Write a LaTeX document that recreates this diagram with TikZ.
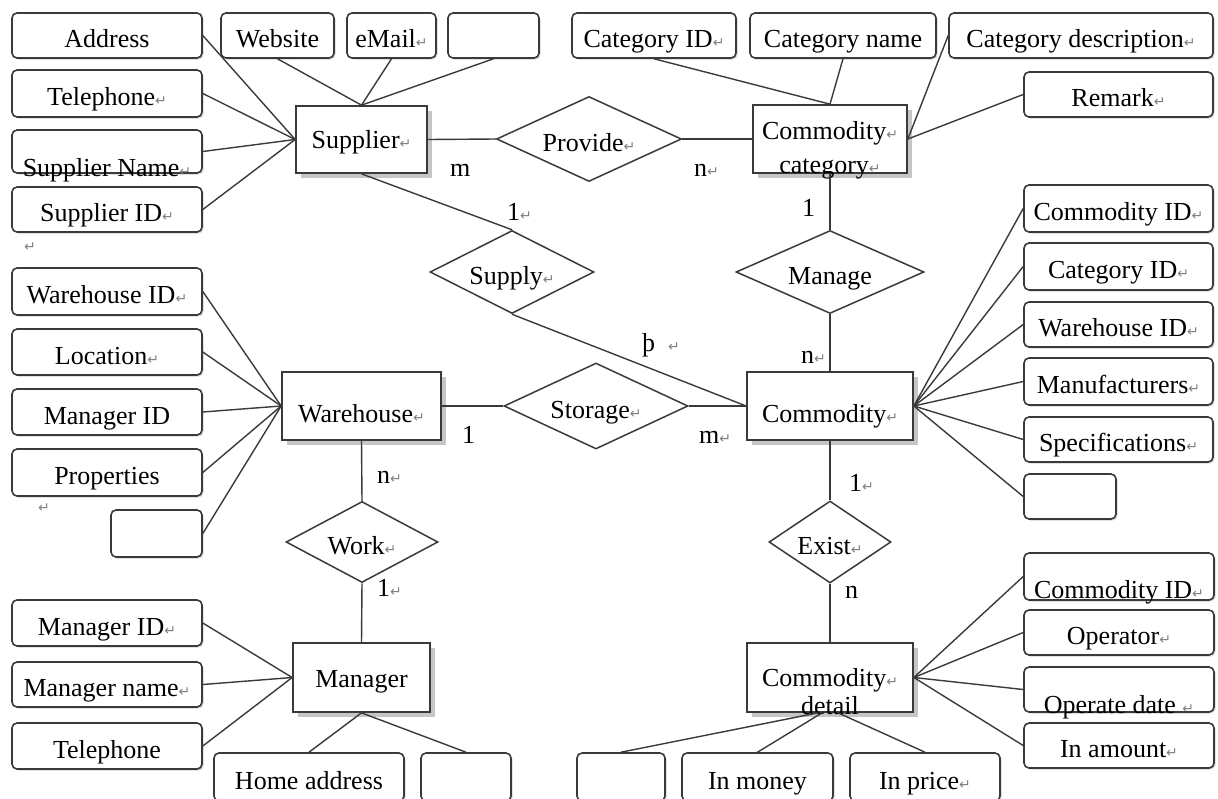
\documentclass[tikz,border=0pt]{standalone}
\usepackage{fontspec}
\setmainfont{Liberation Serif}
\newfontfamily\retfont{DejaVu Sans}
\usetikzlibrary{shapes.geometric,shadows}
\definecolor{ln}{HTML}{3A3A3A}
\newcommand\retm{{\retfont\fontsize{14}{14}\selectfont\textcolor{gray}{↵}}}
\newcommand\abox[6]{\node[attr, minimum width={#4-#2}, minimum height={#5-#3}] (#1) at ({(#2+#4)/2},{(#3+#5)/2}) {#6};}
\newcommand\ebox[7]{\node[ent, minimum width={#4-#2}, minimum height={#5-#3}, #7] (#1) at ({(#2+#4)/2},{(#3+#5)/2}) {#6};}
\begin{document}
\begin{tikzpicture}[x=1pt,y=-1pt,
  every node/.style={font=\fontsize{26}{30}\selectfont},
  attr/.style={draw=ln, line width=1.6pt, rounded corners=5pt, fill=white, inner sep=0pt,
    text height=26pt, text depth=2pt,
    drop shadow={shadow xshift=1.5pt, shadow yshift=-1.5pt, opacity=0.35}},
  ent/.style={draw=ln, line width=1.7pt, fill=white, inner sep=0pt,
    drop shadow={shadow xshift=5pt, shadow yshift=-5pt, opacity=0.45, fill=gray}},
  rel/.style={diamond, draw=ln, line width=1.5pt, fill=white, inner sep=0pt},
  rlab/.style={text height=26pt, text depth=2pt, inner sep=0pt},
  conn/.style={draw=ln, line width=1.4pt},
  card/.style={anchor=west, inner sep=0pt}]
\useasboundingbox (0,0) rectangle (1218,798);

% ---------- Supplier ----------
\ebox{supplier}{296}{106}{427}{173}{Supplier\retm}{text height=19pt, text depth=2pt}
\abox{addr}{12}{13}{202}{58}{Address}
\abox{web}{221}{13}{334}{58}{Website}
\abox{email}{347}{13}{436}{58}{eMail\retm}
\abox{sempty}{448}{13}{539}{58}{}
\abox{stel}{12}{70}{202}{117}{Telephone\retm}
\abox{sname}{12}{130}{202}{173}{}
\node (snamet) at (107,170.5) {Supplier Name\retm};
\abox{sid}{12}{187}{202}{232}{Supplier ID\retm}
\node (ret1) at (30,247) {\retm};

% ---------- Commodity category ----------
\ebox{cc}{753}{105}{907}{173}{}{}
\node (cct1) at (830,133.5) {Commodity\retm};
\node (cct2) at (830,169) {category\retm};
\abox{catid}{572}{13}{736}{58}{Category ID\retm}
\abox{catname}{750}{13}{936}{58}{Category name}
\abox{catdesc}{949}{13}{1213}{58}{Category description\retm}
\abox{remark}{1024}{72}{1213}{117}{Remark\retm}

% ---------- Commodity ----------
\ebox{commodity}{747}{372}{913}{440}{Commodity\retm}{text height=34pt, text depth=2pt}
\abox{cid}{1024}{185}{1213}{232}{Commodity ID\retm}
\abox{ccatid}{1024}{243}{1213}{290}{Category ID\retm}
\abox{cwid}{1024}{302}{1213}{347}{Warehouse ID\retm}
\abox{cmanu}{1024}{358}{1213}{405}{Manufacturers\retm}
\abox{cspec}{1024}{417}{1213}{462}{Specifications\retm}
\abox{cempty}{1024}{474}{1116}{519}{}

% ---------- Warehouse ----------
\ebox{warehouse}{282}{372}{441}{440}{Warehouse\retm}{text height=34pt, text depth=2pt}
\abox{wid}{12}{268}{202}{315}{Warehouse ID\retm}
\abox{wloc}{12}{329}{202}{375}{Location\retm}
\abox{wmid}{12}{389}{202}{435}{Manager ID}
\abox{wprop}{12}{449}{202}{496}{Properties}
\node (ret2) at (44,508) {\retm};
\abox{wempty}{111}{510}{202}{557}{}

% ---------- Manager ----------
\ebox{manager}{293}{643}{430}{712}{Manager}{text height=21pt, text depth=2pt}
\abox{mid}{12}{600}{202}{646}{Manager ID\retm}
\abox{mname}{12}{662}{202}{707}{Manager name\retm}
\abox{mtel}{12}{723}{202}{769}{Telephone}
\abox{mhome}{214}{753}{404}{801}{Home address}
\abox{mempty}{421}{753}{511}{801}{}

% ---------- Commodity detail ----------
\ebox{cd}{747}{643}{913}{712}{}{}
\node (cdt1) at (830,680.5) {Commodity\retm};
\node (cdt2) at (830,706) {detail};
\abox{dcid}{1024}{553}{1214}{600}{}
\node (dcidt) at (1119,592) {Commodity ID\retm};
\abox{dop}{1024}{610}{1214}{655}{Operator\retm}
\abox{ddate}{1024}{667}{1214}{712}{}
\node (ddatet) at (1119,707) {Operate date \retm};
\abox{damt}{1024}{723}{1214}{768}{In amount\retm}
\abox{dempty}{577}{753}{665}{801}{}
\abox{dmoney}{682}{753}{833}{801}{In money}
\abox{dprice}{850}{753}{1000}{801}{In price\retm}

% ---------- Relationships ----------
\node[rel, minimum width=185, minimum height=85, label={[rlab]center:{Provide\retm}}] (provide) at (589,139) {};
\node[rel, minimum width=164, minimum height=83, label={[rlab]center:{Supply\retm}}] (supply) at (512,272) {};
\node[rel, minimum width=188, minimum height=83, label={[rlab]center:{Manage}}] (manage) at (830,272) {};
\node[rel, minimum width=184, minimum height=86, label={[rlab]center:{Storage\retm}}] (storage) at (596,406) {};
\node[rel, minimum width=152, minimum height=81, label={[rlab]center:{Work\retm}}] (work) at (362,542) {};
\node[rel, minimum width=122, minimum height=82, label={[rlab]center:{Exist\retm}}] (exist) at (830,542) {};

% ---------- Connectors ----------
\foreach \a in {addr,stel,sname,sid} \draw[conn] (\a.east) -- (supplier.west);
\foreach \a in {web,email,sempty} \draw[conn] (\a.south) -- (supplier.north);
\foreach \a in {catid,catname} \draw[conn] (\a.south) -- (cc.north);
\foreach \a in {catdesc,remark} \draw[conn] (\a.west) -- (cc.east);
\foreach \a in {cid,ccatid,cwid,cmanu,cspec,cempty} \draw[conn] (\a.west) -- (commodity.east);
\foreach \a in {wid,wloc,wmid,wprop,wempty} \draw[conn] (\a.east) -- (warehouse.west);
\foreach \a in {mid,mname,mtel} \draw[conn] (\a.east) -- (manager.west);
\foreach \a in {mhome,mempty} \draw[conn] (\a.north) -- (manager.south);
\foreach \a in {dcid,dop,ddate,damt} \draw[conn] (\a.west) -- (cd.east);
\draw[conn] (dempty.north) -- ([xshift=-12pt]cd.south);
\draw[conn] (dmoney.north) -- ([xshift=-8pt]cd.south);
\draw[conn] (dprice.north) -- ([xshift=8pt]cd.south);

\draw[conn] (supplier.east) -- (provide.west);
\draw[conn] (provide.east) -- (cc.west);
\draw[conn] (supplier.south) -- (supply.north);
\draw[conn] (supply.south) -- (commodity.west);
\draw[conn] (cc.south) -- (manage.north);
\draw[conn] (manage.south) -- (commodity.north);
\draw[conn] (warehouse.east) -- (storage.west);
\draw[conn] (storage.east) -- (commodity.west);
\draw[conn] (warehouse.south) -- (work.north);
\draw[conn] (work.south) -- (manager.north);
\draw[conn] (commodity.south) -- (exist.north);
\draw[conn] (exist.south) -- (cd.north);

% ---------- Cardinalities ----------
\node[card] (c1) at (450,170) {m};
\node[card] (c2) at (694,170) {n\retm};
\node[card] (c3) at (507,212) {1\retm};
\node[card] (c4) at (802,208) {1};
\node[card] (c5) at (642,345) {þ \ \retm};
\node[card] (c6) at (801,357) {n\retm};
\node[card] (c7) at (462,435) {1};
\node[card] (c8) at (699,437) {m\retm};
\node[card] (c9) at (377,477) {n\retm};
\node[card] (c10) at (377,588) {1\retm};
\node[card] (c11) at (849,483) {1\retm};
\node[card] (c12) at (845,592) {n};
\end{tikzpicture}
\end{document}
